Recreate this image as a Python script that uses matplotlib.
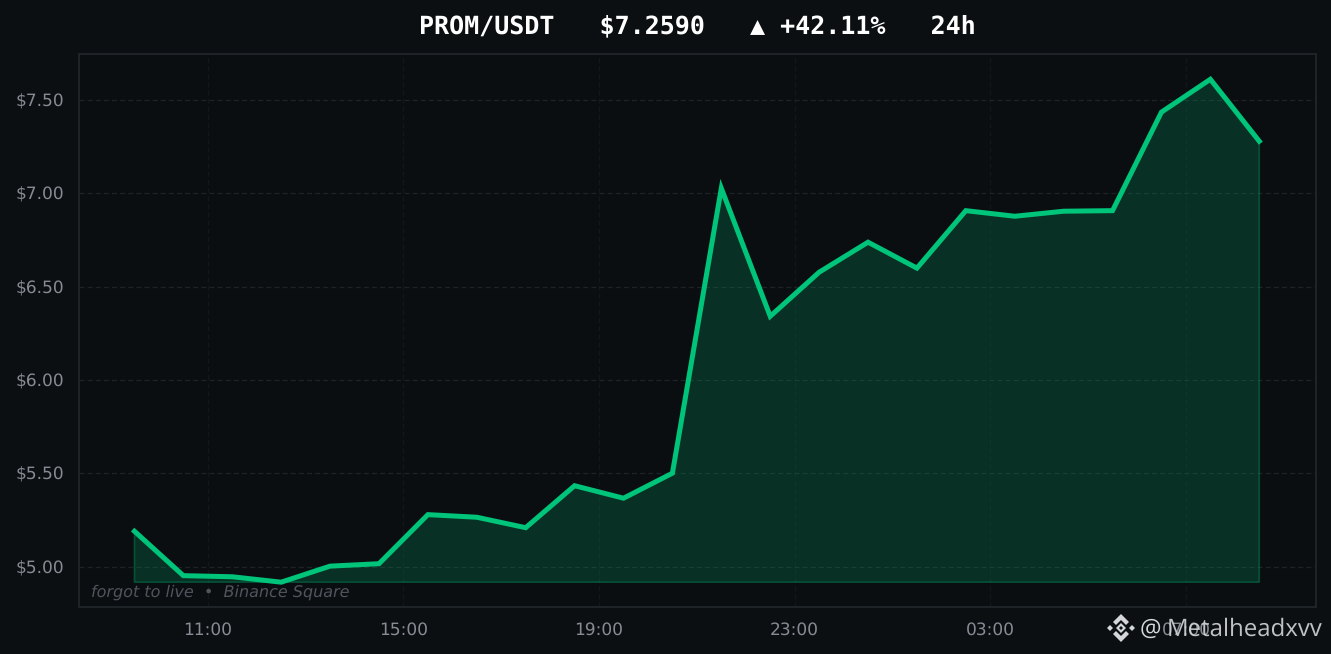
import matplotlib
matplotlib.use('Agg')
import matplotlib.pyplot as plt
from matplotlib.patches import Polygon

plt.rcParams['text.hinting'] = 'none'
plt.rcParams['text.hinting_factor'] = 1

# precio por hora
prices = [5.19, 4.952, 4.946, 4.917, 5.003, 5.016, 5.279, 5.265, 5.209, 5.434, 5.367, 5.501,
          7.028, 6.342, 6.578, 6.739, 6.600, 6.908, 6.878, 6.905, 6.908, 7.436, 7.612, 7.280]
hours = list(range(len(prices)))
x_ticks = [1.5, 5.5, 9.5, 13.5, 17.5, 21.5]
x_labels = ['11:00', '15:00', '19:00', '23:00', '03:00', '07:00']
y_ticks = [5.0, 5.5, 6.0, 6.5, 7.0, 7.5]
y_labels = ['$5.00', '$5.50', '$6.00', '$6.50', '$7.00', '$7.50']

BG = '#0b0f12'
PANEL = '#0a0e11'
GREEN = '#00c47a'
W, H = 1331, 654


def fx(px):
    return px / W


def fy(py):
    return 1 - py / H


fig = plt.figure(figsize=(W / 100, H / 100), dpi=100, facecolor=BG)
ax = fig.add_axes([fx(79), fy(607), fx(1316 - 79), (607 - 54) / H], facecolor=PANEL)

# grid
ax.grid(axis='y', color='#1d2327', linestyle=(0, (4, 2.5)), linewidth=0.9)
ax.grid(axis='x', color='#11171a', linestyle=(0, (4, 2.5)), linewidth=0.9)
ax.set_axisbelow(True)

# area y linea
ax.fill_between(hours, prices, min(prices), facecolor=GREEN, alpha=0.19, zorder=2)
ax.fill_between(hours, prices, min(prices), facecolor='none', edgecolor=GREEN, alpha=0.3,
                linewidth=1.2, zorder=2)
ax.plot(hours, prices, color=GREEN, linewidth=3.6, solid_joinstyle='miter', zorder=3)

ax.set_xlim(-1.134, 24.16)
ax.set_ylim(4.784, 7.7475)
ax.set_xticks(x_ticks)
ax.set_xticklabels(x_labels)
ax.set_yticks(y_ticks)
ax.set_yticklabels(y_labels)
ax.tick_params(axis='both', length=0, colors='#868b94', labelsize=12)
ax.tick_params(axis='x', pad=11)
ax.tick_params(axis='y', pad=10.5)
for s in ax.spines.values():
    s.set_color('#1e2328')
    s.set_linewidth(1.5)

fig.text(fx(697), fy(26), 'PROM/USDT   $7.2590   ▲ +42.11%   24h', color='white',
         family='DejaVu Sans Mono', fontweight='bold', fontsize=17.95, ha='center', va='center')
fig.text(fx(91), fy(592), 'forgot to live  •  Binance Square', color='#50555d',
         style='italic', fontsize=11.45, ha='left', va='center')

# marca de agua
wm = '#d4d6d8'
fig.text(fx(1140), fy(630), '@', color=wm, family='Open Sans', fontsize=17.6, ha='left', va='center')
fig.text(fx(1167), fy(630), 'Metalheadxvv', color=wm, family='Open Sans', fontsize=17.6,
         ha='left', va='center', alpha=0.9)
cx, cy = 1121, 628
logo = [
    [(-5, 0), (0, -5), (5, 0), (0, 5), (-5, 0), (-2, 0), (0, 2), (2, 0), (0, -2), (-2, 0)],
    [(-14, 0), (-11, -3), (-8, 0), (-11, 3)],
    [(14, 0), (11, -3), (8, 0), (11, 3)],
    [(0, -14), (8, -6), (5, -3), (0, -8), (-5, -3), (-8, -6)],
    [(0, 14), (8, 6), (5, 3), (0, 8), (-5, 3), (-8, 6)],
]
for shape in logo:
    fig.add_artist(Polygon([(fx(cx + a), fy(cy + b)) for a, b in shape], closed=True,
                           transform=fig.transFigure, facecolor=wm, edgecolor='none'))

fig.savefig('out.png', dpi=100, facecolor=BG)
